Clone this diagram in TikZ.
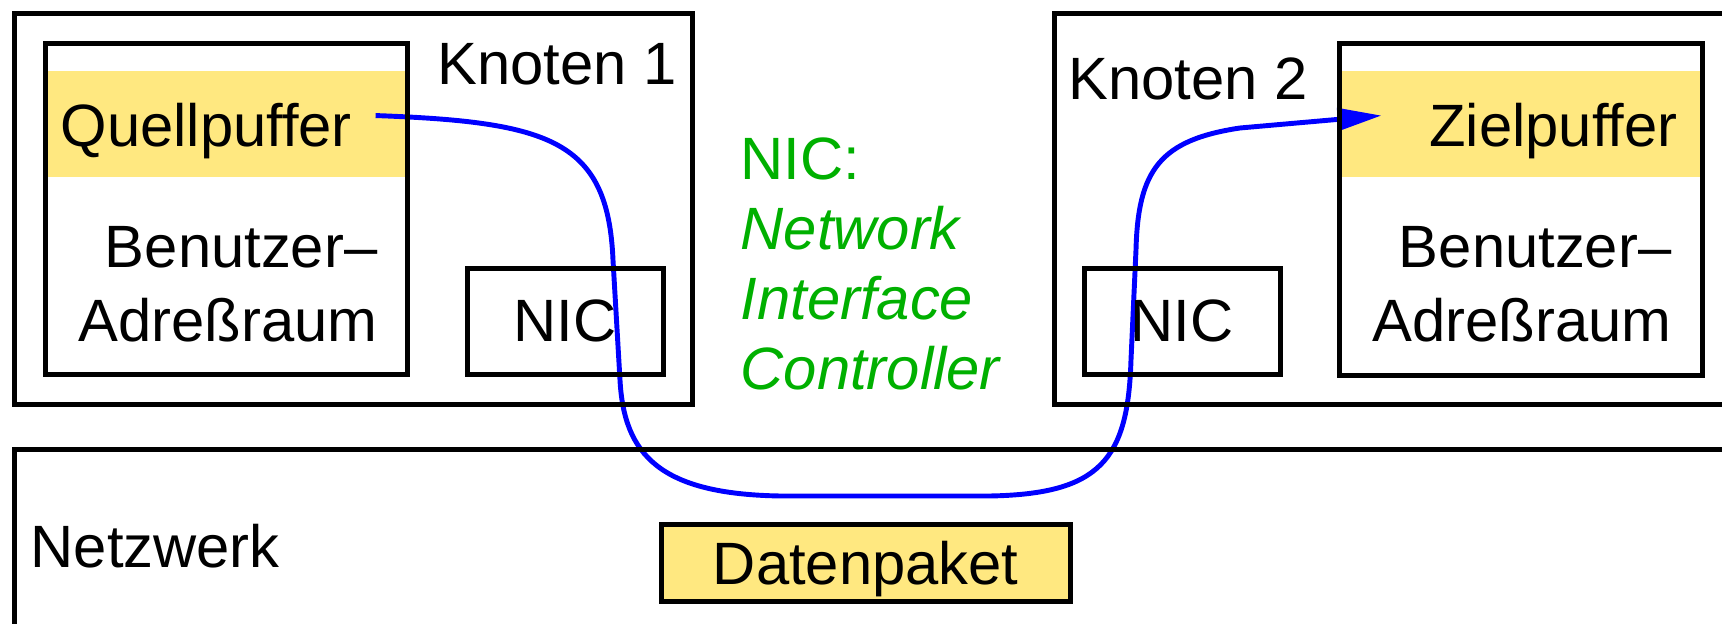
\documentclass[tikz,border=0pt]{standalone}
\usepackage{fontspec}
\setmainfont{Liberation Sans}
\usetikzlibrary{arrows.meta,backgrounds}
\definecolor{puffergelb}{RGB}{255,232,128}
\definecolor{nicgruen}{RGB}{0,176,0}

\begin{document}
\begin{tikzpicture}[
  every node/.style={inner sep=0pt, font=\fontsize{17}{21.3}\selectfont},
  kasten/.style={rectangle, draw, line width=1.3pt, anchor=north west},
  fluss/.style={draw=blue, line width=1.4pt, -{Triangle[length=0.44cm,width=0.22cm]}}
]
\useasboundingbox (0,0) rectangle (17.22,-6.24);
\clip (0,0) rectangle (17.22,-6.24);

\node (knoten1) [kasten, minimum width=6.78cm, minimum height=3.91cm] at (0.12,-0.11) {};
\node (raum1) [kasten, minimum width=3.62cm, minimum height=3.31cm] at (0.43,-0.41) {};
\node (nic1) [kasten, minimum width=1.96cm, minimum height=1.06cm] at (4.65,-2.66) {NIC};
\node (k1name) [anchor=base west] at (4.37,-0.85) {Knoten 1};
\node (quelle) [anchor=base west] at (0.60,-1.47) {Quellpuffer};
\node (benutzer1) [anchor=base east, align=right] at (3.78,-3.42) {Benutzer–\\Adreßraum};

\node (knoten2) [kasten, minimum width=7.5cm, minimum height=3.91cm] at (10.52,-0.11) {};
\node (raum2) [kasten, minimum width=3.63cm, minimum height=3.32cm] at (13.37,-0.41) {};
\node (nic2) [kasten, minimum width=1.96cm, minimum height=1.06cm] at (10.82,-2.66) {NIC};
\node (k2name) [anchor=base west] at (10.68,-1.00) {Knoten 2};
\node (ziel) [anchor=base east] at (16.78,-1.47) {Zielpuffer};
\node (benutzer2) [anchor=base east, align=right] at (16.72,-3.42) {Benutzer–\\Adreßraum};

\node (nicnote) [anchor=base west, align=left, text=nicgruen, font=\fontsize{17}{20}\selectfont] at (7.40,-3.90)
  {NIC:\\\textit{Network}\\\textit{Interface}\\\textit{Controller}};

\node (netz) [kasten, minimum width=17.5cm, minimum height=2.5cm] at (0.12,-4.47) {};
\node (netzname) [anchor=base west] at (0.30,-5.68) {Netzwerk};
\node (paket) [kasten, fill=puffergelb, minimum width=4.09cm, minimum height=0.77cm, text depth=0pt] at (6.59,-5.22) {Datenpaket};

\begin{scope}[on background layer]
  \fill[puffergelb] (raum1.north west) ++(0,-0.30) rectangle ++(3.62,-1.06);
  \fill[puffergelb] (raum2.north west) ++(0,-0.30) rectangle ++(3.63,-1.06);
  \draw[fluss] ([shift={(0.23,0.16)}]quelle.east)
      .. controls (5.50,-1.22) and (6.08,-1.40) .. (6.13,-2.60)
      -- (6.20,-3.80)
      .. controls (6.24,-4.55) and (6.60,-4.94) .. (7.80,-4.96)
      -- (9.90,-4.96)
      .. controls (11.00,-4.94) and (11.28,-4.60) .. (11.31,-3.60)
      -- (11.36,-2.50)
      .. controls (11.38,-1.70) and (11.60,-1.40) .. (12.40,-1.28)
      -- ([shift={(-0.47,0.16)}]ziel.west);
\end{scope}
\end{tikzpicture}
\end{document}
